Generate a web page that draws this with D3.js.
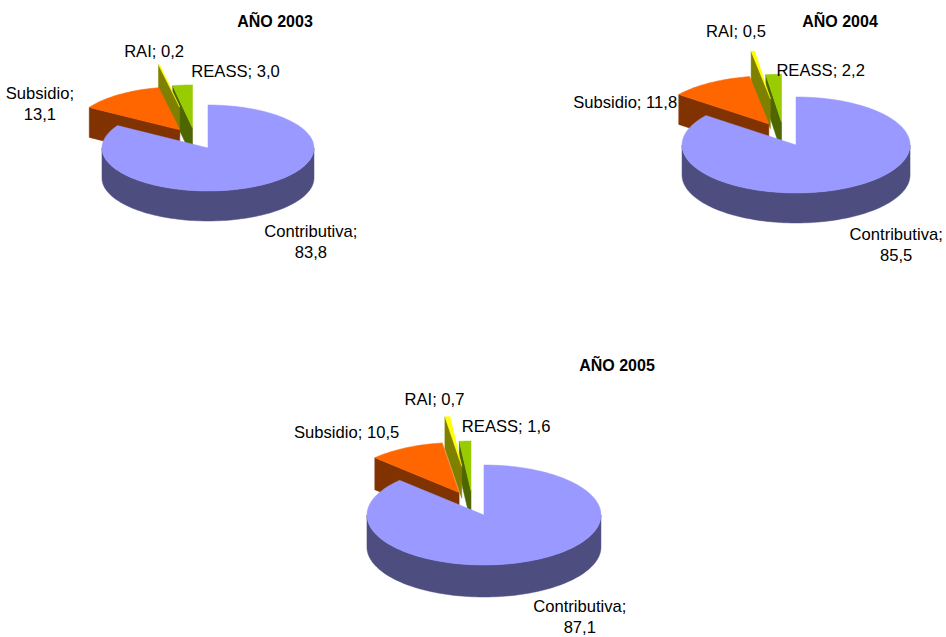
<!DOCTYPE html>
<html>
<head>
<meta charset="utf-8">
<script src="https://cdn.jsdelivr.net/npm/d3@7"></script>
<style>
  body { margin: 0; background: #fff; }
  text { font-family: "Liberation Sans", Arial, sans-serif; fill: #000; }
</style>
</head>
<body>
<div id="chart"></div>
<script>
// data
const categories = ["Contributiva", "Subsidio", "RAI", "REASS"];
const years = ["2003", "2004", "2005"];
const values2003 = [83.8, 13.1, 0.2, 3.0];
const values2004 = [85.5, 11.8, 0.5, 2.2];
const values2005 = [87.1, 10.5, 0.7, 1.6];
const seriesValues = [values2003, values2004, values2005];

// styling
const topColors = ["#9999FF", "#FF6600", "#FFFF00", "#99CC00"];
const sideColors = ["#4D4D80", "#803300", "#808000", "#4D6600"];
const explode = [0.25, 0.25, 0.75, 0.25];

// one entry per pie: centre, ellipse radii, thickness, title spot, label nudges
const layout = [
  { cx: 195, cy: 138.6, rx: 106, ry: 43, h: 30, title: [275, 27],
    labels: [[51, 22], [-79, 4], [-5, -8], [53, -8]], wrap: [true, true, false, false] },
  { cx: 783.5, cy: 134.2, rx: 114, ry: 48, h: 30, title: [840, 27],
    labels: [[50, 22], [-85, 25], [-17, -14], [47, 2]], wrap: [true, false, false, false] },
  { cx: 472.5, cy: 503.5, rx: 117, ry: 50, h: 32, title: [617, 371],
    labels: [[50, 19], [-59, -10], [-13, -12], [41, -9]], wrap: [true, false, false, false] }
];

const width = 946, height = 637;
const fmt = d3.formatLocale({ decimal: ",", thousands: ".", grouping: [3], currency: ["", ""] }).format(".1f");

const svg = d3.select("#chart").append("svg")
  .attr("width", width)
  .attr("height", height)
  .attr("viewBox", `0 0 ${width} ${height}`);

const pie = d3.pie().sort(null).value(d => d);
const line = d3.line();

function drawPie(values, year, L) {
  const g = svg.append("g");
  const arcs = pie(values).map((d, i) => {
    const mid = (d.startAngle + d.endAngle) / 2;
    const e = explode[i];
    return {
      ...d, i, mid,
      sx: L.cx + e * L.rx * Math.sin(mid),
      sy: L.cy - e * L.ry * Math.cos(mid)
    };
  });

  const onRim = (s, a, dy = 0) => [s.sx + L.rx * Math.sin(a), s.sy - L.ry * Math.cos(a) + dy];
  const arcPts = (s, a0, a1, dy = 0) => {
    const n = Math.max(2, Math.ceil(Math.abs(a1 - a0) / 0.03));
    return d3.range(n + 1).map(k => onRim(s, a0 + (a1 - a0) * k / n, dy));
  };

  // back slices first
  const order = arcs.slice().sort((a, b) => Math.cos(b.mid) - Math.cos(a.mid));

  order.forEach(s => {
    const slice = g.append("g");
    const side = sideColors[s.i];

    // radial face at start angle
    if (Math.sin(s.startAngle) < -1e-6) {
      const p = onRim(s, s.startAngle);
      slice.append("path")
        .attr("d", line([[s.sx, s.sy], p, [p[0], p[1] + L.h], [s.sx, s.sy + L.h]]) + "Z")
        .attr("fill", side).attr("stroke", side).attr("stroke-width", 0.5);
    }
    // radial face at end angle
    if (Math.sin(s.endAngle) > 1e-6) {
      const p = onRim(s, s.endAngle);
      slice.append("path")
        .attr("d", line([[s.sx, s.sy], p, [p[0], p[1] + L.h], [s.sx, s.sy + L.h]]) + "Z")
        .attr("fill", side).attr("stroke", side).attr("stroke-width", 0.5);
    }
    // outer wall, only the front half shows
    const w0 = Math.max(s.startAngle, Math.PI / 2);
    const w1 = Math.min(s.endAngle, Math.PI * 1.5);
    if (w1 > w0) {
      const pts = arcPts(s, w0, w1).concat(arcPts(s, w1, w0, L.h));
      slice.append("path")
        .attr("d", line(pts) + "Z")
        .attr("fill", side).attr("stroke", side).attr("stroke-width", 0.5);
    }
    // top face
    const topPts = [[s.sx, s.sy]].concat(arcPts(s, s.startAngle, s.endAngle));
    slice.append("path")
      .attr("d", line(topPts) + "Z")
      .attr("fill", topColors[s.i]).attr("stroke", topColors[s.i]).attr("stroke-width", 0.5);
  });

  // title
  g.append("text")
    .attr("x", L.title[0]).attr("y", L.title[1])
    .attr("text-anchor", "middle")
    .style("font-size", "16px")
    .style("font-weight", "bold")
    .text(`AÑO ${year}`);

  // data labels
  arcs.forEach(s => {
    const e = explode[s.i];
    const front = Math.cos(s.mid) < 0 ? L.h : 0;
    const ox = L.cx + (1 + e) * L.rx * Math.sin(s.mid) + L.labels[s.i][0];
    const oy = L.cy - (1 + e) * L.ry * Math.cos(s.mid) + front + L.labels[s.i][1];
    const t = g.append("text")
      .attr("x", ox).attr("y", oy)
      .attr("text-anchor", "middle")
      .style("font-size", "16.6px");
    if (L.wrap[s.i]) {
      t.append("tspan").attr("x", ox).text(`${categories[s.i]};`);
      t.append("tspan").attr("x", ox).attr("dy", 21).text(fmt(s.data));
    } else {
      t.text(`${categories[s.i]}; ${fmt(s.data)}`);
    }
  });
}

seriesValues.forEach((vals, k) => drawPie(vals, years[k], layout[k]));
</script>
</body>
</html>
